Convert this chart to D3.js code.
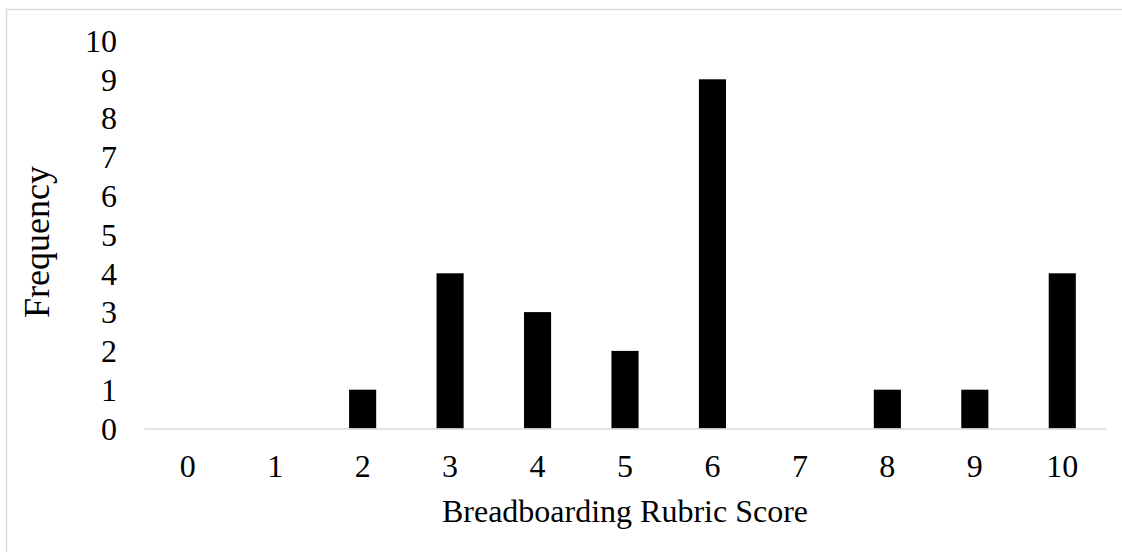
<!DOCTYPE html>
<html>
<head>
<meta charset="utf-8">
<script src="https://cdn.jsdelivr.net/npm/d3@7"></script>
<style>
  body { margin: 0; background: #fff; }
  svg text { font-family: "Liberation Serif", "Times New Roman", serif; fill: #000; }
</style>
</head>
<body>
<svg id="chart" width="1122" height="552"></svg>
<script>
// Breadboarding rubric score histogram
const scores = ['0', '1', '2', '3', '4', '5', '6', '7', '8', '9', '10'];
const frequency = [0, 0, 1, 4, 3, 2, 9, 0, 1, 1, 4];
const yTicks = [0, 1, 2, 3, 4, 5, 6, 7, 8, 9, 10];

const svg = d3.select('#chart');
const width = +svg.attr('width');
const height = +svg.attr('height');

// chart border (runs off the right and bottom of the picture)
svg.append('rect')
   .attr('x', 6.5)
   .attr('y', 9.5)
   .attr('width', width)
   .attr('height', height)
   .attr('fill', 'none')
   .attr('stroke', '#d9d9d9')
   .attr('stroke-width', 1.5);

const plot = { left: 144, right: 1106, top: 40.5, bottom: 428.5 };
const FONT_SIZE = 32;

const x = d3.scaleBand()
            .domain(scores)
            .range([plot.left, plot.right])
            .paddingInner(0.69)
            .paddingOuter(0.345);

const y = d3.scaleLinear()
            .domain([0, 10])
            .range([plot.bottom, plot.top]);

// y tick labels, no axis line
const yAxis = svg.append('g')
                 .attr('transform', 'translate(' + (plot.left - 27) + ',0)')
                 .call(d3.axisLeft(y).tickValues(yTicks).tickSize(0).tickPadding(0));
yAxis.select('.domain').remove();
yAxis.selectAll('text')
     .style('font-size', FONT_SIZE + 'px')
     .attr('font-family', null)
     .attr('dy', '0.34em');

// bars
svg.selectAll('rect.bar')
   .data(frequency)
   .enter()
   .append('rect')
   .attr('class', 'bar')
   .attr('x', (d, i) => x(scores[i]))
   .attr('y', d => y(d))
   .attr('width', x.bandwidth())
   .attr('height', d => y(0) - y(d))
   .attr('fill', '#000');

// x axis
const xAxis = svg.append('g')
                 .attr('transform', 'translate(0,' + plot.bottom + ')')
                 .call(d3.axisBottom(x).tickSize(0).tickPadding(0));
xAxis.select('.domain')
     .attr('stroke', '#d9d9d9')
     .attr('stroke-width', 1.5);
xAxis.selectAll('text')
     .style('font-size', FONT_SIZE + 'px')
     .attr('font-family', null)
     .attr('dy', null)
     .attr('y', 48);

// axis titles
svg.append('text')
   .attr('x', 625)
   .attr('y', 522)
   .attr('text-anchor', 'middle')
   .style('font-size', FONT_SIZE + 'px')
   .text('Breadboarding Rubric Score');

svg.append('text')
   .attr('transform', 'translate(49,242) rotate(-90)')
   .attr('text-anchor', 'middle')
   .style('font-size', '36px')
   .text('Frequency');
</script>
</body>
</html>
